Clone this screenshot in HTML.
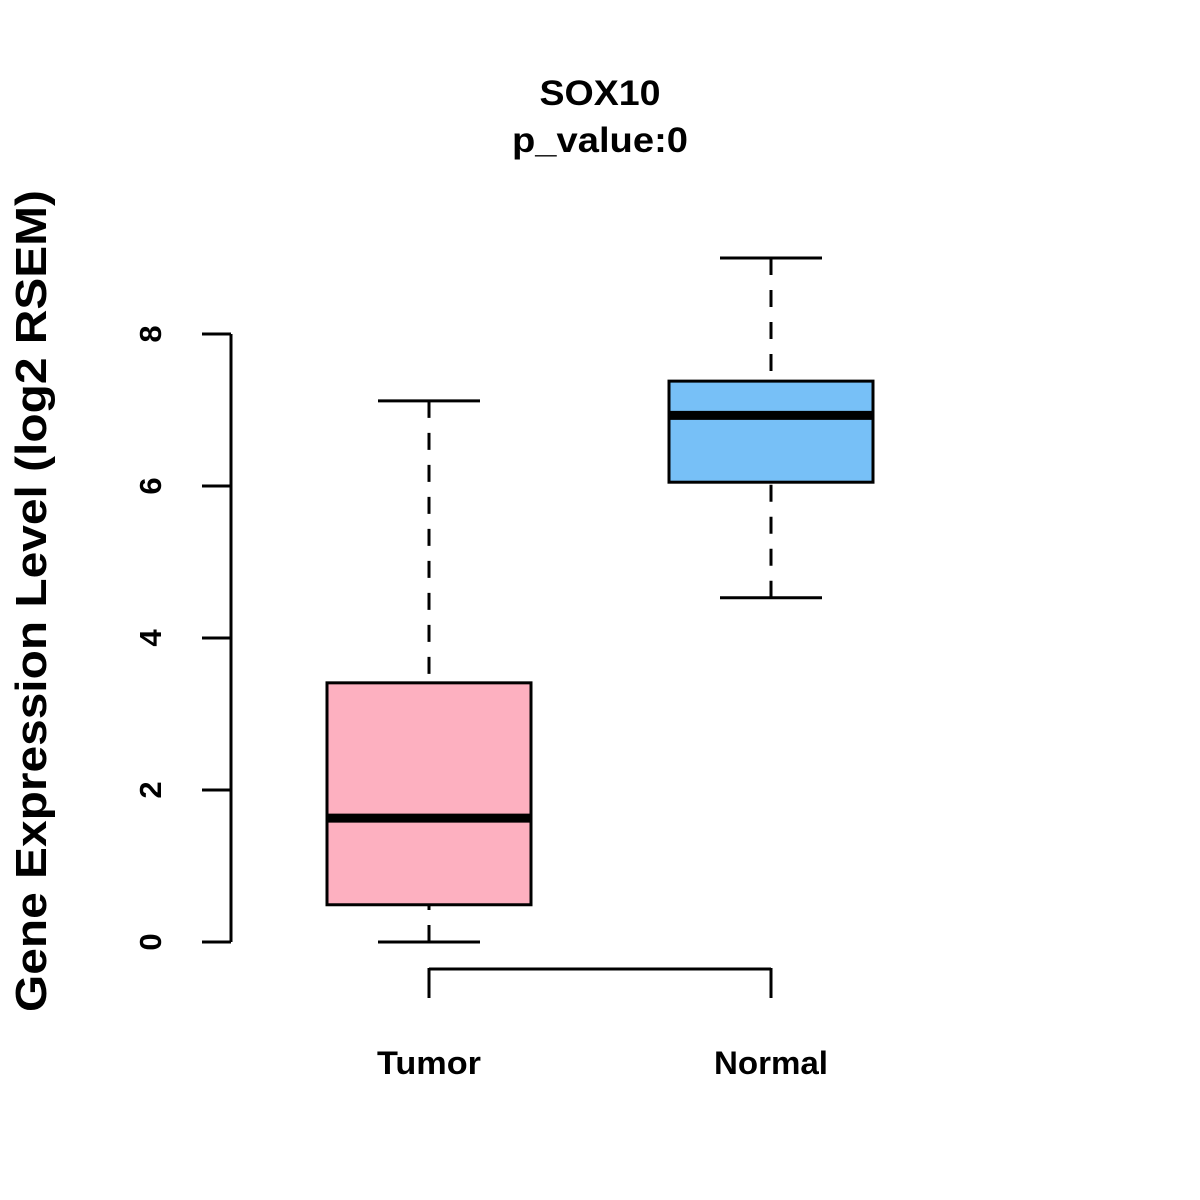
<!DOCTYPE html>
<html><head><meta charset="utf-8"><style>
body{margin:0;background:#fff;}
svg{display:block;font-family:"Liberation Sans",Arial,sans-serif;font-weight:bold;}
</style></head><body>
<svg id="chart" width="1200" height="1200" viewBox="0 0 1200 1200" xmlns="http://www.w3.org/2000/svg">
<rect width="1200" height="1200" fill="#fff"/>
<text x="600" y="105" font-size="35" text-anchor="middle" textLength="121" lengthAdjust="spacingAndGlyphs">SOX10</text>
<text x="600" y="152" font-size="35" text-anchor="middle" textLength="176" lengthAdjust="spacingAndGlyphs">p_value:0</text>
<text transform="translate(46,601) rotate(-90)" font-size="44" text-anchor="middle" textLength="822" lengthAdjust="spacingAndGlyphs">Gene Expression Level (log2 RSEM)</text>
<g id="plot"></g>
</svg>
<script>
const categories = ["Tumor", "Normal"];
const mins = [0, 4.53];
const q1s = [0.49, 6.05];
const medians = [1.63, 6.93];
const q3s = [3.41, 7.38];
const maxs = [7.12, 9.0];
const colors = ["#FDB0C0", "#77C0F7"];
const yTicks = [0, 2, 4, 6, 8];
const labelWidths = [104, 114];

const y = v => 942 - v * 76;
const x = i => 429 + i * 342;
const NS = "http://www.w3.org/2000/svg";
const g = document.getElementById("plot");
function el(tag, attrs) {
  const e = document.createElementNS(NS, tag);
  for (const k in attrs) e.setAttribute(k, attrs[k]);
  g.appendChild(e);
  return e;
}
let ax = el("line", {x1: 231, x2: 231, y1: y(yTicks[0]), y2: y(yTicks[yTicks.length-1]), stroke: "#000", "stroke-width": 3});


yTicks.forEach(t => {
  const tk = el("line", {x1: 202, x2: 231, y1: y(t), y2: y(t), stroke: "#000", "stroke-width": 3});
  
  
  const tl = el("text", {transform: `translate(161,${y(t)}) rotate(-90)`, "font-size": 31, "text-anchor": "middle"});
  tl.textContent = t;
  
  
});
let xa = el("line", {x1: x(0), x2: x(1), y1: 969, y2: 969, stroke: "#000", "stroke-width": 3});


categories.forEach((c, i) => {
  const tk = el("line", {x1: x(i), x2: x(i), y1: 968, y2: 998, stroke: "#000", "stroke-width": 3});
  
  
  const tl = el("text", {x: x(i), y: 1074, "font-size": 32, "text-anchor": "middle", textLength: labelWidths[i], lengthAdjust: "spacingAndGlyphs"});
  tl.textContent = c;
  
  
  const cx = x(i), hw = 102, cw = 51;
  const w1 = el("line", {x1: cx, x2: cx, y1: y(maxs[i]), y2: y(q3s[i]), stroke: "#000", "stroke-width": 3, "stroke-dasharray": "17 15"});
  
  
  const w2 = el("line", {x1: cx, x2: cx, y1: y(mins[i]), y2: y(q1s[i]), stroke: "#000", "stroke-width": 3, "stroke-dasharray": "17 15"});
  
  
  const c1 = el("line", {x1: cx - cw, x2: cx + cw, y1: y(maxs[i]), y2: y(maxs[i]), stroke: "#000", "stroke-width": 3});
  
  
  const c2 = el("line", {x1: cx - cw, x2: cx + cw, y1: y(mins[i]), y2: y(mins[i]), stroke: "#000", "stroke-width": 3});
  
  
  const b = el("rect", {x: cx - hw, y: y(q3s[i]), width: 2 * hw, height: y(q1s[i]) - y(q3s[i]), fill: colors[i], stroke: "#000", "stroke-width": 3});
  
  
  const m = el("line", {x1: cx - hw, x2: cx + hw, y1: y(medians[i]), y2: y(medians[i]), stroke: "#000", "stroke-width": 9});
  
  
});
</script>
</body></html>
